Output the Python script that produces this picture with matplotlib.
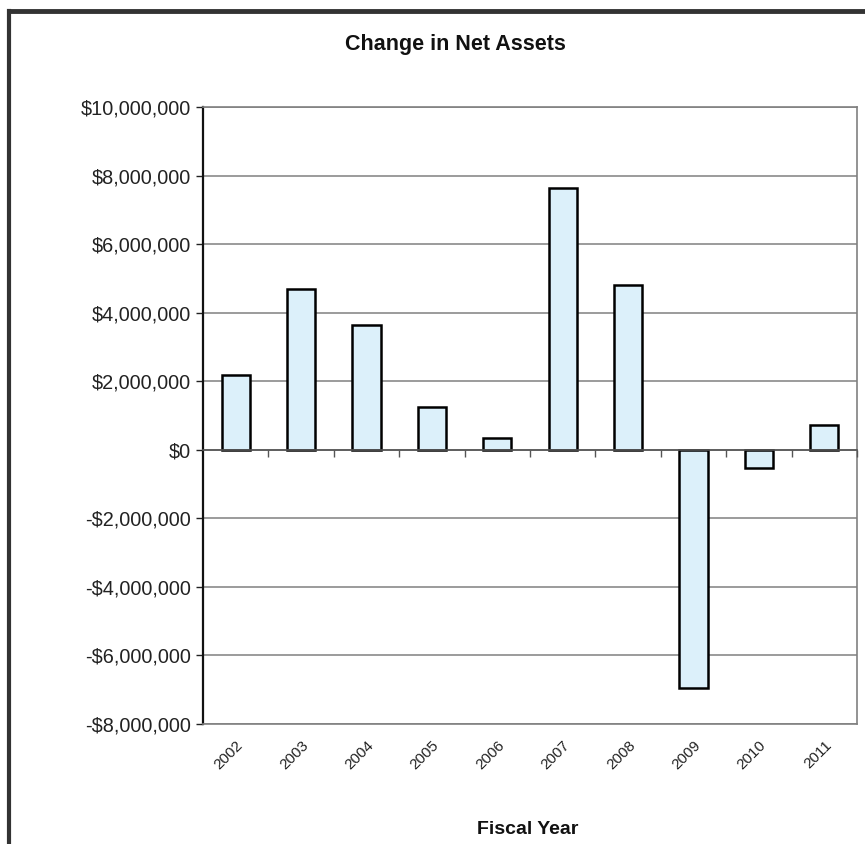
import numpy as np
import matplotlib
matplotlib.use("Agg")
import matplotlib.pyplot as plt
from matplotlib.ticker import FuncFormatter, FixedLocator
from matplotlib.lines import Line2D

# --- data ---
years = ['2002', '2003', '2004', '2005', '2006', '2007', '2008', '2009', '2010', '2011']
change_net_assets = [2180000, 4680000, 3640000, 1240000, 350000,
                     7650000, 4800000, -6950000, -530000, 710000]

# --- style ---
FONT = ['Liberation Sans', 'DejaVu Sans']
BAR_FILL = '#dcf0fa'
GRID = '#808080'

plt.rcParams['font.family'] = FONT

fig = plt.figure(figsize=(8.65, 8.44), dpi=100, facecolor='white')
ax = fig.add_axes([0.2347, 0.1422, 0.7561, 0.7310])

x = np.arange(len(years))
ax.bar(x, change_net_assets, width=0.43, color=BAR_FILL,
       edgecolor='black', linewidth=1.8, zorder=3)

ax.set_xlim(-0.5, len(years) - 0.5)
ax.set_ylim(-8000000, 10000000)
ax.set_yticks(np.arange(-8000000, 10000001, 2000000))


def dollars(v, pos):
    if v < 0:
        return f"-${-v:,.0f}"
    return f"${v:,.0f}"


ax.yaxis.set_major_formatter(FuncFormatter(dollars))
ax.tick_params(axis='y', direction='out', length=5, width=1, labelsize=14.3,
               colors='#222222', pad=4)
ax.yaxis.grid(True, color=GRID, linewidth=1.1, zorder=0)

# year labels sit under the plot, no tick marks there
ax.set_xticks(x)
ax.set_xticklabels(years, rotation=45, ha='right', rotation_mode='anchor',
                   fontsize=11, color='#222222')
ax.tick_params(axis='x', length=0, pad=10)

for side in ['top', 'right', 'bottom']:
    ax.spines[side].set_color(GRID)
    ax.spines[side].set_linewidth(1.2)
ax.spines['left'].set_color('#111111')
ax.spines['left'].set_linewidth(1.6)

# zero line with category divider ticks
ax0 = ax.twiny()
ax0.set_xlim(ax.get_xlim())
ax0.xaxis.set_ticks_position('bottom')
ax0.spines['bottom'].set_position(('data', 0))
ax0.spines['bottom'].set_color('#555555')
ax0.spines['bottom'].set_linewidth(1.2)
for side in ['top', 'right', 'left']:
    ax0.spines[side].set_visible(False)
ax0.xaxis.set_major_locator(FixedLocator(np.arange(-0.5, len(years), 1.0)[1:]))
ax0.tick_params(axis='x', direction='out', length=5, width=1, colors='#555555',
                labelbottom=False, labeltop=False)
ax0.set_zorder(ax.get_zorder() + 1)
ax0.patch.set_visible(False)

fig.text(0.527, 0.947, 'Change in Net Assets', ha='center', va='center',
         fontsize=15.5, fontweight='bold', color='#111111')
fig.text(0.610, 0.017, 'Fiscal Year', ha='center', va='center',
         fontsize=14, fontweight='bold', color='#111111')

# outer frame (top and left edges)
fig.add_artist(Line2D([0.0104, 1.0], [0.9870, 0.9870], transform=fig.transFigure,
                      color='#333333', linewidth=3.5))
fig.add_artist(Line2D([0.0104, 0.0104], [0.0, 0.9870], transform=fig.transFigure,
                      color='#333333', linewidth=3.0))

fig.savefig('out.png', dpi=100, facecolor='white')
